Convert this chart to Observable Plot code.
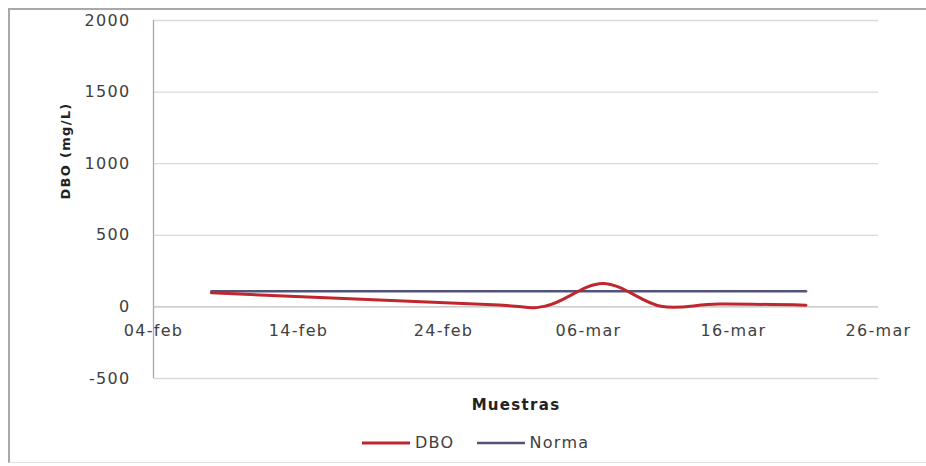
<!DOCTYPE html>
<html>
<head>
<meta charset="utf-8">
<script src="https://cdn.jsdelivr.net/npm/d3@7"></script>
<script src="https://cdn.jsdelivr.net/npm/@observablehq/plot@0.6"></script>
<style>
  html, body { margin: 0; padding: 0; background: #fff; }
  #page { position: relative; width: 926px; height: 466px; overflow: hidden; font-family: "DejaVu Sans", sans-serif; }
  #frame { position: absolute; left: 8px; top: 8px; width: 940px; height: 455px;
           border-top: 2px solid #a9a9a9; border-left: 2px solid #a9a9a9; border-bottom: 1px solid #e2e2e2; box-sizing: border-box; }
  #chart { position: absolute; left: 0; top: 0; }
  #legend { position: absolute; left: 362px; top: 433px; display: flex; align-items: center;
            font-size: 16px; letter-spacing: 1.3px; color: #404040; }
  .item { display: flex; align-items: center; margin-right: 22px; }
  .swatch { width: 48px; margin-right: 5px; }
</style>
</head>
<body>
<div id="page">
  <div id="frame"></div>
  <div id="chart"></div>
  <div id="legend"></div>
</div>
<script>
// Sampling dates and BOD readings (mg/L)
const fechas = ["2015-02-08", "2015-02-27", "2015-03-03", "2015-03-07", "2015-03-11", "2015-03-15", "2015-03-21"];
const dbo = [98, 16, 5, 164, 4, 20, 12];

// Regulatory limit, drawn across the sampling period
const normaFechas = ["2015-02-08", "2015-03-21"];
const normaValor = 110;

// Axis ticks
const yTicks = [-500, 0, 500, 1000, 1500, 2000];
const xTickFechas = ["2015-02-04", "2015-02-14", "2015-02-24", "2015-03-06", "2015-03-16", "2015-03-26"];
const xTickLabels = ["04-feb", "14-feb", "24-feb", "06-mar", "16-mar", "26-mar"];

const series = [
  {name: "DBO", color: "#c0262d", width: 3},
  {name: "Norma", color: "#52527a", width: 2.5}
];

const parse = d3.utcParse("%Y-%m-%d");
const dboData = fechas.map((f, i) => ({fecha: parse(f), valor: dbo[i]}));
const normaData = normaFechas.map(f => ({fecha: parse(f), valor: normaValor}));
const xTicks = xTickFechas.map(parse);

const chart = Plot.plot({
  width: 926,
  height: 420,
  marginLeft: 153,
  marginRight: 48,
  marginTop: 20,
  marginBottom: 42,
  style: {fontFamily: "DejaVu Sans, sans-serif", fontSize: "16px", color: "#404040", background: "transparent", overflow: "visible", letterSpacing: "1.3px"},
  x: {type: "utc", domain: [xTicks[0], xTicks[xTicks.length - 1]], axis: null},
  y: {domain: [-500, 2000], axis: null},
  marks: [
    Plot.gridY(yTicks.filter(v => v !== 0), {stroke: "#d9d9d9", strokeOpacity: 1, strokeWidth: 1.3}),
    Plot.ruleY([0], {stroke: "#bdbdbd", strokeWidth: 1.3}),
    Plot.ruleX([xTicks[0]], {y1: -500, y2: 2000, stroke: "#a8a8a8", strokeWidth: 1.3}),
    Plot.axisY(yTicks, {tickSize: 0, tickPadding: 23, label: null, fill: "#404040", tickFormat: d => String(d)}),
    Plot.text(xTicks, {x: d => d, y: () => 0, dy: 24, text: (d, i) => xTickLabels[i], fill: "#404040"}),
    Plot.text(["Muestras"], {frameAnchor: "bottom", dy: 31, fontWeight: "bold", fontSize: 15, fill: "#222"}),
    Plot.text(["DBO (mg/L)"], {frameAnchor: "left", dx: -88, rotate: -90, fontWeight: "bold", fontSize: 13, fill: "#222", letterSpacing: "0.4px"}),
    Plot.line(normaData, {x: "fecha", y: "valor", stroke: series[1].color, strokeWidth: series[1].width}),
    Plot.line(dboData, {x: "fecha", y: "valor", stroke: series[0].color, strokeWidth: series[0].width, curve: "cardinal", tension: 0})
  ]
});
document.getElementById("chart").append(chart);

// Legend below the chart
const legend = d3.select("#legend");
series.forEach(s => {
  const item = legend.append("div").attr("class", "item");
  item.append("svg").attr("class", "swatch").attr("width", 48).attr("height", 10)
    .append("line").attr("x1", 0).attr("x2", 48).attr("y1", 5).attr("y2", 5)
    .attr("stroke", s.color).attr("stroke-width", s.width);
  item.append("span").text(s.name);
});
</script>
</body>
</html>
